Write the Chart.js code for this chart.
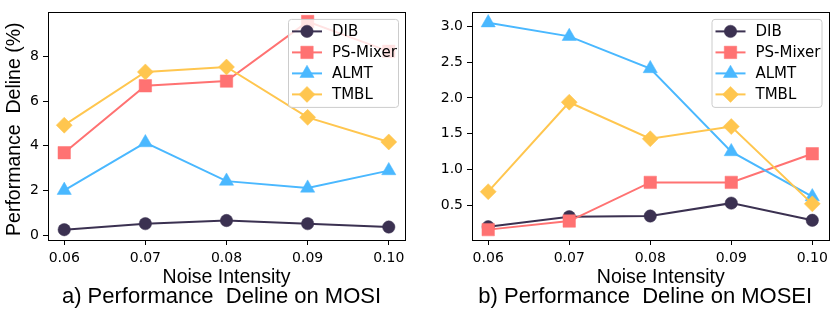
<!DOCTYPE html>
<html lang="en">
<head>
<meta charset="UTF-8">
<title>Performance Deline</title>
<script src="https://cdn.jsdelivr.net/npm/chart.js@4.4.0/dist/chart.umd.min.js"></script>
<style>
  html, body { margin: 0; padding: 0; background: #fff; }
  #wrap { position: relative; width: 838px; height: 310px; }
  canvas { position: absolute; top: 0; }
</style>
</head>
<body>
<div id="wrap">
  <canvas id="mosi" width="419" height="310" style="left:0"></canvas>
  <canvas id="mosei" width="419" height="310" style="left:419px"></canvas>
</div>
<script>
// noise levels on the x axis
const noise = [0.06, 0.07, 0.08, 0.09, 0.10];
const noiseLabels = ['0.06', '0.07', '0.08', '0.09', '0.10'];
const methods = ['DIB', 'PS-Mixer', 'ALMT', 'TMBL'];

// a) MOSI
const mosiDIB   = [0.25, 0.52, 0.66, 0.52, 0.37];
const mosiPS    = [3.69, 6.68, 6.89, 9.55, 8.22];
const mosiALMT  = [2.01, 4.14, 2.42, 2.11, 2.89];
const mosiTMBL  = [4.92, 7.30, 7.52, 5.27, 4.17];
const mosiTicks = [0, 2, 4, 6, 8];

// b) MOSEI
const moseiDIB   = [0.20, 0.34, 0.35, 0.53, 0.29];
const moseiPS    = [0.16, 0.28, 0.82, 0.82, 1.22];
const moseiALMT  = [3.05, 2.86, 2.41, 1.25, 0.62];
const moseiTMBL  = [0.69, 1.94, 1.43, 1.60, 0.52];
const moseiTicks = [0.5, 1.0, 1.5, 2.0, 2.5, 3.0];

const look = {
  'DIB':      { color: '#3b3151', pointStyle: 'circle',   radius: 6.2 },
  'PS-Mixer': { color: '#ff7272', pointStyle: 'rect',     radius: 8.8 },
  'ALMT':     { color: '#4ab8ff', pointStyle: 'triangle', radius: 8.2 },
  'TMBL':     { color: '#ffc64f', pointStyle: 'rectRot',  radius: 8 }
};

function makeSets(series) {
  return methods.map((name, i) => ({
    label: name,
    data: series[i].map((v, j) => ({ x: noise[j], y: v })),
    borderColor: look[name].color,
    backgroundColor: look[name].color,
    pointBackgroundColor: look[name].color,
    pointBorderColor: look[name].color,
    pointBorderWidth: 0.5,
    pointStyle: look[name].pointStyle,
    pointRadius: look[name].radius,
    borderWidth: 2,
    tension: 0,
    order: methods.length - i
  }));
}

// frame, legend and titles, matplotlib-like
const panel = {
  id: 'panel',
  afterDraw(chart, args, o) {
    const ctx = chart.ctx;
    const a = chart.chartArea;
    ctx.save();
    ctx.strokeStyle = '#000';
    ctx.lineWidth = 1;
    ctx.strokeRect(Math.round(a.left) + 0.5, Math.round(a.top) + 0.5,
                   Math.round(a.right - a.left), Math.round(a.bottom - a.top));

    // legend
    const bw = 110, bh = 88;
    const bx = a.right - 7 - bw, by = a.top + 6.5;
    ctx.beginPath();
    ctx.roundRect(bx + 0.5, by + 0.5, bw, bh, 3);
    ctx.fillStyle = 'rgba(255,255,255,0.8)';
    ctx.fill();
    ctx.strokeStyle = '#cccccc';
    ctx.stroke();
    ctx.font = '15px "DejaVu Sans"';
    ctx.textAlign = 'left';
    ctx.textBaseline = 'middle';
    chart.data.datasets.forEach((ds, i) => {
      const y = by + 12.5 + i * 21;
      ctx.strokeStyle = ds.borderColor;
      ctx.lineWidth = 2;
      ctx.beginPath();
      ctx.moveTo(bx + 4, y);
      ctx.lineTo(bx + 34, y);
      ctx.stroke();
      ctx.fillStyle = ds.borderColor;
      ctx.lineWidth = 0.5;
      Chart.helpers.drawPoint(ctx, { pointStyle: ds.pointStyle, radius: ds.pointRadius, rotation: 0, borderWidth: 0.5 }, bx + 19, y);
      ctx.fillStyle = '#000';
      ctx.fillText(ds.label, bx + 44, y + 1);
    });

    // titles
    const cx = (a.left + a.right) / 2;
    ctx.fillStyle = '#000';
    ctx.textAlign = 'center';
    ctx.textBaseline = 'middle';
    ctx.font = '19.5px "Liberation Sans", Arial, sans-serif';
    ctx.fillText(o.xTitle, cx + o.xShift, 278);
    if (o.yTitle) {
      ctx.save();
      ctx.translate(15, (a.top + a.bottom) / 2 + 3);
      ctx.rotate(-Math.PI / 2);
      ctx.fillText(o.yTitle, 0, 0);
      ctx.restore();
    }
    ctx.font = '22px "Liberation Sans", Arial, sans-serif';
    ctx.fillText(o.caption, cx - 5, 297);
    ctx.restore();
  }
};

function drawPanel(id, series, yTicks, yMin, yMax, yFmt, leftW, rightPad, texts) {
  new Chart(document.getElementById(id), {
    type: 'line',
    data: { datasets: makeSets(series) },
    options: {
      responsive: false,
      animation: false,
      layout: { padding: { left: 0, top: 10, right: rightPad, bottom: 0 } },
      plugins: { legend: { display: false }, tooltip: { enabled: false }, panel: texts },
      scales: {
        x: {
          type: 'linear',
          min: 0.058,
          max: 0.102,
          afterFit: s => { s.height = 70; },
          afterBuildTicks: s => { s.ticks = noise.map(v => ({ value: v })); },
          ticks: {
            autoSkip: false,
            maxRotation: 0,
            padding: 5,
            color: '#000',
            font: { family: 'DejaVu Sans', size: 14 },
            callback: v => noiseLabels[noise.findIndex(n => Math.abs(n - v) < 1e-6)]
          },
          grid: { drawOnChartArea: false, drawTicks: true, tickLength: 5, color: '#000' },
          border: { display: false }
        },
        y: {
          min: yMin,
          max: yMax,
          afterFit: s => { s.width = leftW; },
          afterBuildTicks: s => { s.ticks = yTicks.map(v => ({ value: v })); },
          ticks: {
            padding: 4,
            color: '#000',
            font: { family: 'DejaVu Sans', size: 14 },
            callback: yFmt
          },
          grid: { drawOnChartArea: false, drawTicks: true, tickLength: 5, color: '#000' },
          border: { display: false }
        }
      }
    },
    plugins: [panel]
  });
}

drawPanel('mosi', [mosiDIB, mosiPS, mosiALMT, mosiTMBL], mosiTicks, -0.21, 9.96,
  v => String(v), 48, 14,
  { xTitle: 'Noise Intensity', xShift: 0, yTitle: 'Performance  Deline (%)', caption: 'a) Performance  Deline on MOSI' });

drawPanel('mosei', [moseiDIB, moseiPS, moseiALMT, moseiTMBL], moseiTicks, 0.015, 3.195,
  v => v.toFixed(1), 53, 9.5,
  { xTitle: 'Noise Intensity', xShift: 10.5, yTitle: '', caption: 'b) Performance  Deline on MOSEI' });
</script>
</body>
</html>
